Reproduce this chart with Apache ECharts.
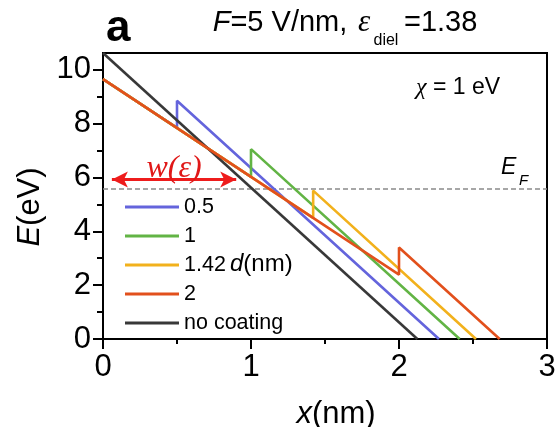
<!DOCTYPE html>
<html><head><meta charset="utf-8">
<script src="https://cdn.jsdelivr.net/npm/echarts@6/dist/echarts.min.js"></script>
<style>html,body{margin:0;padding:0;background:#fff}#c{width:560px;height:427px}</style>
</head><body><div id="c"></div>
<script>
// ---- data ----
const seriesNames = ['0.5', '1', '1.42', '2', 'no coating'];
const seriesColors = ['#6464dc', '#62b445', '#f2b11c', '#e2501c', '#383838'];
const xTicks = [0, 1, 2, 3];
const yTicks = [0, 2, 4, 6, 8, 10];
const yMinorTicks = [1, 3, 5, 7, 9];
const coat05 = [[0, 9.65], [0.5, 7.84], [0.5, 8.85], [2.27, 0]];
const coat1 = [[0, 9.65], [1, 6.02], [1, 7.05], [2.41, 0]];
const coat142 = [[0, 9.65], [1.42, 4.50], [1.42, 5.51], [2.52, 0]];
const coat2 = [[0, 9.65], [2, 2.39], [2, 3.40], [2.68, 0]];
const noCoating = [[0, 10.62], [2.124, 0]];
const fermiLevel = 5.57;
const arrowSpan = [0.06, 0.90];
const arrowLevel = 5.92;
const xMax = 3;
const yMax = 10.62;

const FONT = 'Liberation Sans';
const chart = echarts.init(document.getElementById('c'), null, {renderer: 'canvas'});
const lineData = [coat05, coat1, coat142, coat2, noCoating];

const series = lineData.map((d, i) => ({
  name: seriesNames[i], type: 'line', data: d, symbol: 'none', showSymbol: false,
  lineStyle: {color: seriesColors[i], width: 2.6}, itemStyle: {color: seriesColors[i]},
  z: 3 + (i === 3 ? 5 : i), animation: false
}));
series.unshift({
  name: 'EF', type: 'line', data: [[0, fermiLevel], [xMax, fermiLevel]], symbol: 'none',
  lineStyle: {color: '#8a8a8a', width: 1.6, type: [5, 3]}, z: 2, animation: false,
  markLine: {
    silent: true, animation: false, symbol: ['arrow', 'arrow'], symbolSize: [12, 16],
    lineStyle: {color: '#ee1c1c', width: 3, type: 'solid'},
    label: {show: true, position: 'insideMiddleTop', distance: -5, formatter: 'w(ε)',
      fontFamily: 'Liberation Serif', fontStyle: 'italic', fontSize: 32, color: '#e01818'},
    data: [[{coord: [arrowSpan[0], arrowLevel]}, {coord: [arrowSpan[1], arrowLevel]}]]
  }
});

const axisCommon = {
  axisLine: {show: true, lineStyle: {color: '#000', width: 2}},
  splitLine: {show: false}
};

chart.setOption({
  backgroundColor: '#fff',
  animation: false,
  grid: {left: 103, right: 13, top: 53, bottom: 88, containLabel: false, outerBoundsMode: 'none',
    show: true, borderColor: '#000', borderWidth: 2, backgroundColor: 'transparent'},
  legend: {
    data: seriesNames, orient: 'vertical', left: 120, top: 191, icon: 'rect', itemWidth: 54, itemHeight: 3, itemGap: 7,
    textStyle: {fontFamily: FONT, fontSize: 21.5, color: '#000', lineHeight: 22}, selectedMode: false
  },
  xAxis: Object.assign({}, axisCommon, {
    type: 'value', min: 0, max: xMax, interval: 1,
    axisTick: {show: true, length: 10, lineStyle: {color: '#000', width: 2}},
    minorTick: {show: true, splitNumber: 2, length: 5, lineStyle: {color: '#000', width: 2}},
    axisLabel: {fontFamily: FONT, fontSize: 31, color: '#000', margin: 13,
      formatter: v => xTicks.includes(v) ? String(v) : ''},
    name: '{i|x}(nm)', nameLocation: 'middle', nameGap: 60,
    nameTextStyle: {fontFamily: FONT, fontSize: 31, color: '#000', padding: [0, 0, 0, 22],
      rich: {i: {fontFamily: FONT, fontStyle: 'italic', fontSize: 31}}}
  }),
  yAxis: [
    Object.assign({}, axisCommon, {
      type: 'value', min: 0, max: yMax, interval: 2,
      axisTick: {show: true, length: 10, lineStyle: {color: '#000', width: 2}, customValues: yTicks},
      axisLabel: {fontFamily: FONT, fontSize: 31, color: '#000', margin: 12, customValues: yTicks},
      name: '{i|E}(eV)', nameLocation: 'middle', nameGap: 57, nameRotate: 90,
      nameTextStyle: {fontFamily: FONT, fontSize: 31, color: '#000', padding: [0, 22, 0, 0],
        rich: {i: {fontFamily: FONT, fontStyle: 'italic', fontSize: 31}}}
    }),
    {
      type: 'value', min: 0, max: yMax, position: 'left', axisLine: {show: false},
      splitLine: {show: false}, axisLabel: {show: false},
      axisTick: {show: true, length: 6, lineStyle: {color: '#000', width: 2}, customValues: yMinorTicks}
    }
  ],
  graphic: [
    {type: 'text', x: 106, y: 28.8, style: {text: 'a', font: 'bold 44px "Liberation Sans"', fill: '#000', verticalAlign: 'middle'}},
    {type: 'text', x: 212.7, y: 23.3, style: {text: '{i|F}=5 V/nm,', font: '29px "Liberation Sans"', fill: '#000', verticalAlign: 'middle',
      rich: {i: {fontStyle: 'italic', fontFamily: FONT, fontSize: 29}}}},
    {type: 'text', x: 358, y: 23.3, style: {text: 'ε', font: 'italic 31px "Liberation Serif"', fill: '#000', verticalAlign: 'middle'}},
    {type: 'text', x: 373.5, y: 41, style: {text: 'diel', font: '16px "Liberation Sans"', fill: '#000', verticalAlign: 'middle'}},
    {type: 'text', x: 404, y: 23.3, style: {text: '=1.38', font: '29px "Liberation Sans"', fill: '#000', verticalAlign: 'middle'}},
    {type: 'text', x: 416, y: 87.5, style: {text: '{e|χ} = 1 eV', font: '23px "Liberation Sans"', fill: '#000', verticalAlign: 'middle',
      rich: {e: {fontStyle: 'italic', fontFamily: 'Liberation Serif', fontSize: 24}}}},
    {type: 'text', x: 501, y: 167.5, style: {text: 'E', font: 'italic 23px "Liberation Sans"', fill: '#000', verticalAlign: 'middle'}},
    {type: 'text', x: 519, y: 181, style: {text: 'F', font: 'italic 15px "Liberation Sans"', fill: '#000', verticalAlign: 'middle'}},
    {type: 'text', x: 230, y: 264, style: {text: '{i|d}(nm)', font: '24px "Liberation Sans"', fill: '#000', verticalAlign: 'middle',
      rich: {i: {fontStyle: 'italic', fontFamily: FONT, fontSize: 24}}}}
  ],
  series: series
});
</script></body></html>
